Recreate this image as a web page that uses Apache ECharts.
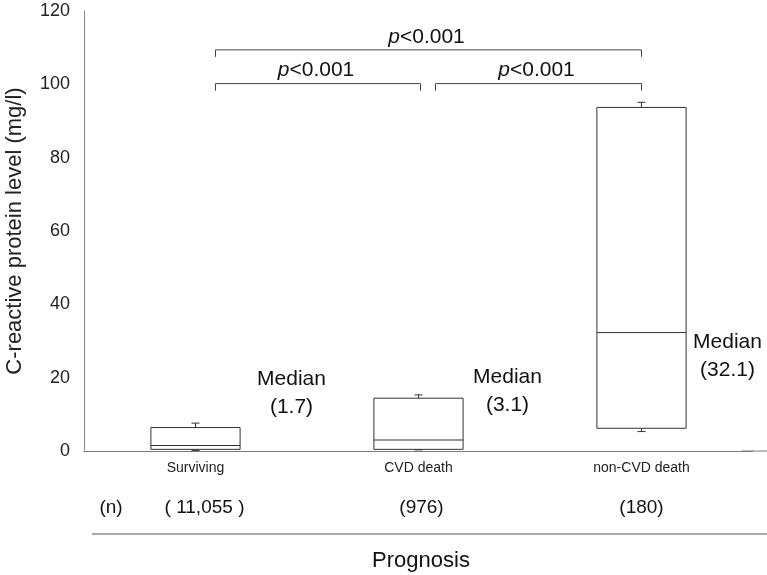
<!DOCTYPE html>
<html><head><meta charset="utf-8">
<script src="https://cdn.jsdelivr.net/npm/echarts/dist/echarts.min.js"></script>
<style>html,body{margin:0;padding:0;background:#fff}#c{width:767px;height:575px}</style>
</head><body><div id="c"></div>
<script>
const categories = ['Surviving', 'CVD death', 'non-CVD death'];
const nCounts = ['( 11,055 )', '(976)', '(180)'];
const whiskerLow = [0.15, 0.3, 5.3];
const q1 = [0.45, 0.45, 6.2];
const median = [1.5, 3.0, 32.3];
const q3 = [6.4, 14.4, 93.7];
const whiskerHigh = [7.6, 15.3, 95.1];
const medianLabels = ['(1.7)', '(3.1)', '(32.1)'];
const yMin = 0, yMax = 120, yInterval = 20;
const pText = '<0.001';
const yTitle = 'C-reactive protein level (mg/l)';
const xTitle = 'Prognosis';

const FONT = '"Liberation Sans", Arial, sans-serif';
const chart = echarts.init(document.getElementById('c'), null, {renderer: 'canvas'});

const boxData = categories.map((c, i) => [i, whiskerLow[i], q1[i], median[i], q3[i], whiskerHigh[i]]);

chart.setOption({
  animation: false,
  backgroundColor: '#fff',
  textStyle: {fontFamily: FONT},
  grid: {left: 84, right: 14, top: 11, bottom: 124, containLabel: false, outerBoundsMode: 'none'},
  xAxis: {
    type: 'category', data: categories, boundaryGap: true,
    axisLine: {lineStyle: {color: '#7a7a7a', width: 1}},
    axisTick: {show: false},
    axisLabel: {fontSize: 14, color: '#222', margin: 10, fontFamily: FONT}
  },
  yAxis: {
    type: 'value', min: yMin, max: yMax, interval: yInterval,
    name: yTitle, nameLocation: 'middle', nameGap: 58,
    nameTextStyle: {fontSize: 22, color: '#222', fontFamily: FONT},
    axisLine: {show: true, lineStyle: {color: '#8a8a8a', width: 1}},
    axisTick: {show: false},
    splitLine: {show: false},
    axisLabel: {fontSize: 18, color: '#222', margin: 14, fontFamily: FONT}
  },
  series: [{
    type: 'custom',
    data: boxData,
    encode: {x: 0, y: [1, 2, 3, 4, 5]},
    renderItem: function (params, api) {
      const i = api.value(0);
      const cx = api.coord([i, 0])[0];
      const band = api.size([1, 0])[0];
      const hw = band * 0.2;
      const yLo = api.coord([i, api.value(1)])[1];
      const yQ1 = api.coord([i, api.value(2)])[1];
      const yMed = api.coord([i, api.value(3)])[1];
      const yQ3 = api.coord([i, api.value(4)])[1];
      const yHi = api.coord([i, api.value(5)])[1];
      const st = {stroke: '#333', lineWidth: 1, fill: null};
      const cap = 4;
      return {
        type: 'group',
        children: [
          {type: 'line', shape: {x1: cx, y1: yQ3, x2: cx, y2: yHi}, style: st},
          {type: 'line', shape: {x1: cx - cap, y1: yHi, x2: cx + cap, y2: yHi}, style: st},
          {type: 'line', shape: {x1: cx, y1: yQ1, x2: cx, y2: yLo}, style: st},
          {type: 'line', shape: {x1: cx - cap, y1: yLo, x2: cx + cap, y2: yLo}, style: st},
          {type: 'rect', shape: {x: cx - hw, y: yQ3, width: 2 * hw, height: yQ1 - yQ3}, style: {stroke: '#333', lineWidth: 1, fill: '#fff'}},
          {type: 'line', shape: {x1: cx - hw, y1: yMed, x2: cx + hw, y2: yMed}, style: st}
        ]
      };
    }
  }]
});

function px(i) { return chart.convertToPixel({xAxisIndex: 0}, i); }
function py(v) { return chart.convertToPixel({yAxisIndex: 0}, v); }

const g = [];
const lineSt = {stroke: '#444', lineWidth: 1};
// comparison brackets: [from, to, level value, left offset, right offset]
const brackets = [[0, 2, 109.4, 20, 0], [0, 1, 100.2, 20, 2], [1, 2, 100.2, 17, 0]];
brackets.forEach(b => {
  const x1 = px(b[0]) + b[3], x2 = px(b[1]) + b[4], y = py(b[2]);
  g.push({type: 'polyline', shape: {points: [[x1, y + 7], [x1, y], [x2, y], [x2, y + 7]]}, style: Object.assign({fill: null}, lineSt)});
  g.push({type: 'text', x: (x1 + x2) / 2 - 2, y: y - 13, style: {
    text: '{i|p}{n|' + pText + '}', align: 'center', verticalAlign: 'middle',
    rich: {i: {fontStyle: 'italic', fontSize: 21, fontFamily: FONT, fill: '#111'}, n: {fontSize: 21, fontFamily: FONT, fill: '#111'}}
  }});
});
// median annotations
const medOff = [96, 89, 86];
const medY = [20.2, 20.7, 30.3];
categories.forEach((c, i) => {
  const x = px(i) + medOff[i], y = py(medY[i]) + 2;
  g.push({type: 'text', x: x, y: y, style: {text: 'Median', align: 'center', verticalAlign: 'middle', fontSize: 21, fontFamily: FONT, fill: '#111'}});
  g.push({type: 'text', x: x, y: y + 28, style: {text: medianLabels[i], align: 'center', verticalAlign: 'middle', fontSize: 21, fontFamily: FONT, fill: '#111'}});
});
// n row
const nY = 508;
g.push({type: 'text', x: 111, y: nY, style: {text: '(n)', align: 'center', verticalAlign: 'middle', fontSize: 19, fontFamily: FONT, fill: '#111'}});
const nOff = [9, 3, 0];
categories.forEach((c, i) => {
  g.push({type: 'text', x: px(i) + nOff[i], y: nY, style: {text: nCounts[i], align: 'center', verticalAlign: 'middle', fontSize: 19, fontFamily: FONT, fill: '#111'}});
});
// separator line and x title
g.push({type: 'line', shape: {x1: 92, y1: 534, x2: 767, y2: 534}, style: {stroke: '#555', lineWidth: 1}});
g.push({type: 'text', x: 421, y: 561, style: {text: xTitle, align: 'center', verticalAlign: 'middle', fontSize: 22, fontFamily: FONT, fill: '#111'}});
// extend baseline to the right edge
const y0 = py(0);
g.push({type: 'line', shape: {x1: px(2) + 100, y1: y0, x2: 767, y2: y0}, style: {stroke: '#7a7a7a', lineWidth: 1}});

chart.setOption({graphic: g});
</script>
</body></html>
